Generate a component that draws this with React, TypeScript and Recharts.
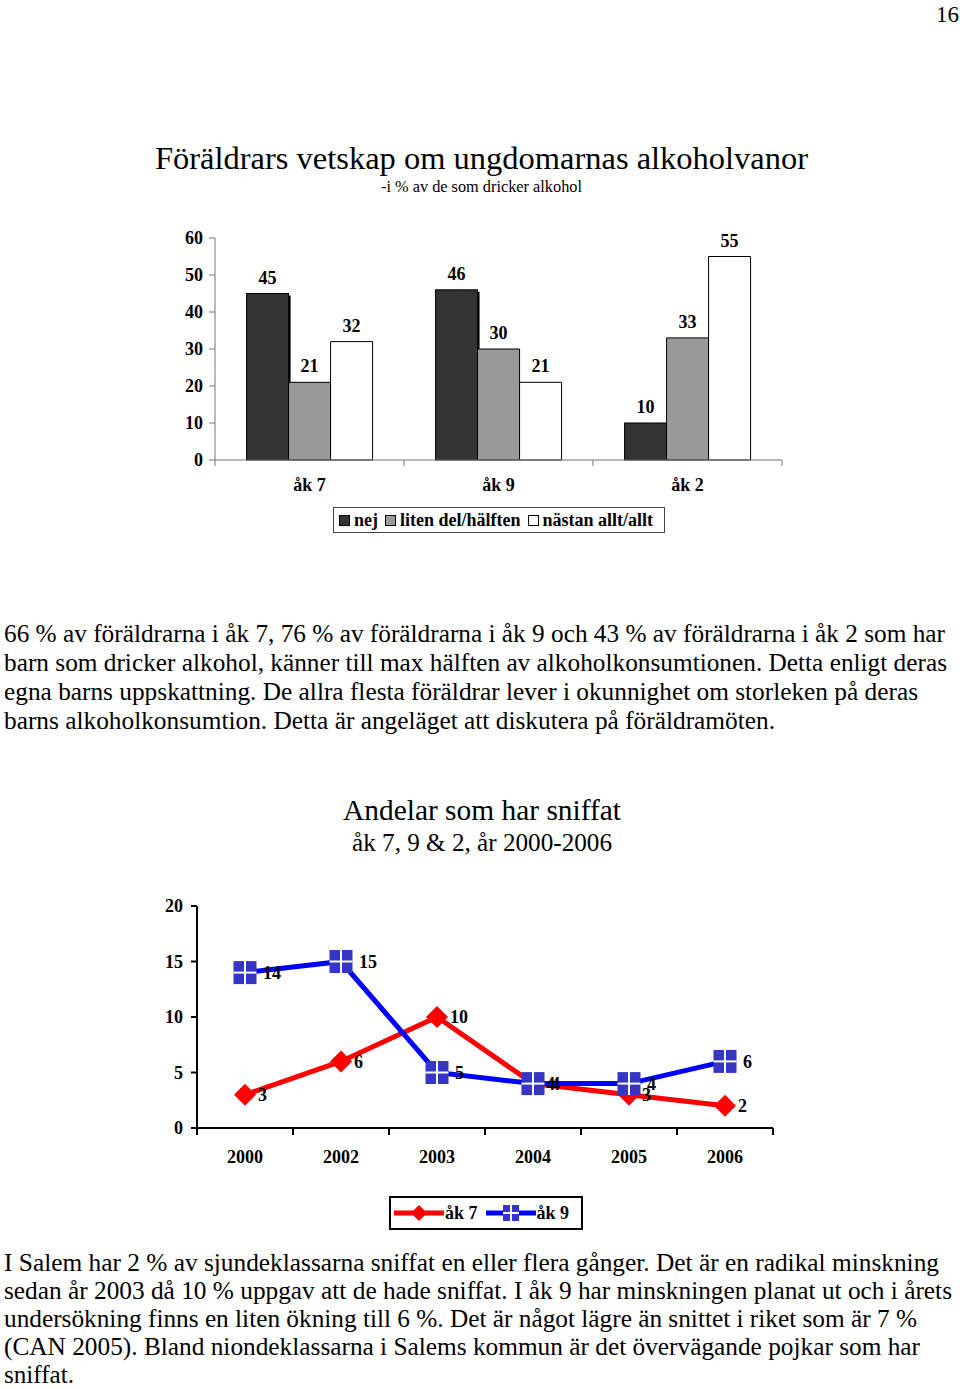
import React from 'react'
import { BarChart, Bar, XAxis, YAxis, LabelList, Legend, LineChart, Line } from 'recharts'

const SERIF = '"Liberation Serif", "Times New Roman", serif'

// stapeldiagram: föräldrars vetskap
const grades = ['åk 7', 'åk 9', 'åk 2']
const nej = [45, 46, 10]
const litenDel = [21, 30, 33]
const nastanAllt = [32, 21, 55]
const barTicks = [0, 10, 20, 30, 40, 50, 60]
const barKeys = ['nej', 'liten', 'nastan']

// linjediagram: andelar som har sniffat
const years = ['2000', '2002', '2003', '2004', '2005', '2006']
const ak7 = [3, 6, 10, 4, 3, 2]
const ak9 = [14, 15, 5, 4, 4, 6]
const lineTicks = [0, 5, 10, 15, 20]

const para1 = [
  '66 % av föräldrarna i åk 7, 76 % av föräldrarna i åk 9 och 43 % av föräldrarna i åk 2 som har',
  'barn som dricker alkohol, känner till max hälften av alkoholkonsumtionen. Detta enligt deras',
  'egna barns uppskattning. De allra flesta föräldrar lever i okunnighet om storleken på deras',
  'barns alkoholkonsumtion. Detta är angeläget att diskutera på föräldramöten.',
]
const para1Widths = [941, 943, 914, 771]

const para2 = [
  'I Salem har 2 % av sjundeklassarna sniffat en eller flera gånger. Det är en radikal minskning',
  'sedan år 2003 då 10 % uppgav att de hade sniffat. I åk 9 har minskningen planat ut och i årets',
  'undersökning finns en liten ökning till 6 %. Det är något lägre än snittet i riket som är 7 %',
  '(CAN 2005). Bland niondeklassarna i Salems kommun är det övervägande pojkar som har',
  'sniffat.',
]
const para2Widths = [935, 948, 913, 916, 70]

const barData = grades.map((g, i) => ({ grade: g, nej: nej[i], liten: litenDel[i], nastan: nastanAllt[i] }))
const lineData = years.map((y, i) => ({ year: y, ak7: ak7[i], ak9: ak9[i] }))

const BAR_HALF = 189 / 2
const LINE_HALF = 48
const AXIS_GRAY = '#777'
const MARKER_BLUE = '#3636c6'

const boldText = { fontFamily: SERIF, fontWeight: 'bold' as const, fontSize: 18, fill: '#000' }

const BarTick = (props: any) => {
  const { x, y, payload } = props
  const last = payload.value === grades[grades.length - 1]
  return (
    <g>
      <line x1={x - BAR_HALF} x2={x - BAR_HALF} y1={y} y2={y + 6} stroke={AXIS_GRAY} />
      {last && <line x1={x + BAR_HALF} x2={x + BAR_HALF} y1={y} y2={y + 6} stroke={AXIS_GRAY} />}
      <text x={x} y={y + 31} textAnchor="middle" {...boldText}>{payload.value}</text>
    </g>
  )
}

const YearTick = (props: any) => {
  const { x, y, payload } = props
  const last = payload.value === years[years.length - 1]
  return (
    <g>
      <line x1={x - LINE_HALF} x2={x - LINE_HALF} y1={y} y2={y + 7} stroke="#000" strokeWidth={2} />
      {last && <line x1={x + LINE_HALF} x2={x + LINE_HALF} y1={y} y2={y + 7} stroke="#000" strokeWidth={2} />}
      <text x={x} y={y + 35} textAnchor="middle" {...boldText}>{payload.value}</text>
    </g>
  )
}

const ShadowBar = (props: any) => {
  const { x, y, width, height, fill } = props
  return (
    <g>
      <rect x={x + width} y={y + 2} width={2} height={Math.max(height - 2, 0)} fill="#000" />
      <rect x={x} y={y} width={width} height={height} fill={fill} stroke="#000" strokeWidth={1} />
    </g>
  )
}

const diamond = (cx: number, cy: number, r: number) =>
  `${cx},${cy - r} ${cx + r},${cy} ${cx},${cy + r} ${cx - r},${cy}`

const CrossSquare = ({ cx, cy, s }: { cx: number; cy: number; s: number }) => (
  <g>
    <rect x={cx - s / 2} y={cy - s / 2} width={s} height={s} fill={MARKER_BLUE} />
    <line x1={cx} x2={cx} y1={cy - s / 2} y2={cy + s / 2} stroke="#fff" strokeWidth={2} />
    <line x1={cx - s / 2} x2={cx + s / 2} y1={cy} y2={cy} stroke="#fff" strokeWidth={2} />
  </g>
)

const BarLegend = (props: any) => {
  const items = [...(props.payload || [])].sort(
    (a: any, b: any) => barKeys.indexOf(a.dataKey) - barKeys.indexOf(b.dataKey)
  )
  return (
    <div
      style={{
        boxSizing: 'border-box',
        width: 332,
        height: 26,
        border: '1px solid #444',
        display: 'flex',
        alignItems: 'center',
        paddingLeft: 5,
        fontFamily: SERIF,
        fontWeight: 'bold',
        fontSize: 18,
        color: '#000',
        background: '#fff',
      }}
    >
      {items.map((p: any, i: number) => (
        <span key={i} style={{ display: 'flex', alignItems: 'center', marginRight: 7 }}>
          <span
            style={{
              display: 'inline-block',
              boxSizing: 'border-box',
              width: 11,
              height: 11,
              background: p.color,
              border: '1px solid #000',
              marginRight: 4,
            }}
          />
          {p.value}
        </span>
      ))}
    </div>
  )
}

const LineLegend = (props: any) => (
  <div
    style={{
      boxSizing: 'border-box',
      width: 194,
      height: 34,
      border: '2px solid #000',
      display: 'flex',
      alignItems: 'center',
      paddingLeft: 3,
      fontFamily: SERIF,
      fontWeight: 'bold',
      fontSize: 18,
      color: '#000',
      background: '#fff',
    }}
  >
    {(props.payload || []).map((p: any, i: number) => (
      <span key={i} style={{ display: 'flex', alignItems: 'center', marginRight: 8 }}>
        <svg width={50} height={20} style={{ marginRight: 1 }}>
          <line x1={0} x2={50} y1={10} y2={10} stroke={p.color} strokeWidth={5} />
          {p.dataKey === 'ak7' ? (
            <polygon points={diamond(25, 10, 8)} fill={p.color} />
          ) : (
            <CrossSquare cx={25} cy={10} s={16} />
          )}
        </svg>
        {p.value}
      </span>
    ))}
  </div>
)

const TextLine = ({ x, y, size, w, anchor = 'start', children }: any) => (
  <text
    x={x}
    y={y}
    fontSize={size}
    fontFamily={SERIF}
    fill="#000"
    textAnchor={anchor}
    textLength={w}
    lengthAdjust="spacingAndGlyphs"
  >
    {children}
  </text>
)

export default function App() {
  return (
    <div
      style={{
        position: 'absolute',
        left: 0,
        top: 0,
        width: 960,
        height: 1389,
        background: '#fff',
        overflow: 'hidden',
        fontFamily: SERIF,
      }}
    >
      <svg width={960} height={1389} style={{ position: 'absolute', left: 0, top: 0 }}>
        <TextLine x={959} y={22} size={23} w={23} anchor="end">16</TextLine>
        <TextLine x={481.5} y={169} size={32} w={653} anchor="middle">
          Föräldrars vetskap om ungdomarnas alkoholvanor
        </TextLine>
        <TextLine x={481.5} y={192} size={16} w={201} anchor="middle">
          -i % av de som dricker alkohol
        </TextLine>
        {para1.map((t, i) => (
          <TextLine key={'a' + i} x={4} y={642 + i * 29} size={25} w={para1Widths[i]}>{t}</TextLine>
        ))}
        <TextLine x={482} y={820} size={29} w={278} anchor="middle">Andelar som har sniffat</TextLine>
        <TextLine x={482} y={851} size={25} w={260} anchor="middle">åk 7, 9 &amp; 2, år 2000-2006</TextLine>
        {para2.map((t, i) => (
          <TextLine key={'b' + i} x={4} y={1271 + i * 28} size={25} w={para2Widths[i]}>{t}</TextLine>
        ))}
      </svg>

      <div style={{ position: 'absolute', left: 0, top: 200 }}>
        <BarChart
          width={960}
          height={340}
          data={barData}
          margin={{ top: 38, right: 178, bottom: 50, left: 165 }}
          barCategoryGap="16.7%"
          barGap={0}
        >
          <XAxis
            dataKey="grade"
            height={30}
            interval={0}
            tickSize={0}
            tickMargin={0}
            tick={<BarTick />}
            axisLine={{ stroke: AXIS_GRAY }}
          />
          <YAxis
            width={50}
            domain={[0, 60]}
            ticks={barTicks}
            interval={0}
            tickSize={6}
            tickMargin={6}
            tick={boldText}
            axisLine={{ stroke: AXIS_GRAY }}
            tickLine={{ stroke: AXIS_GRAY }}
          />
          <Legend
            layout="horizontal"
            verticalAlign="middle"
            align="center"
            wrapperStyle={{ left: 333, top: 307, width: 332 }}
            content={<BarLegend />}
          />
          <Bar dataKey="nej" name="nej" fill="#333333" shape={<ShadowBar />} isAnimationActive={false}>
            <LabelList dataKey="nej" position="top" offset={10} {...boldText} />
          </Bar>
          <Bar dataKey="liten" name="liten del/hälften" fill="#999999" stroke="#000" isAnimationActive={false}>
            <LabelList dataKey="liten" position="top" offset={10} {...boldText} />
          </Bar>
          <Bar dataKey="nastan" name="nästan allt/allt" fill="#ffffff" stroke="#000" isAnimationActive={false}>
            <LabelList dataKey="nastan" position="top" offset={10} {...boldText} />
          </Bar>
        </BarChart>
      </div>

      <div style={{ position: 'absolute', left: 0, top: 880 }}>
        <LineChart
          width={960}
          height={360}
          data={lineData}
          margin={{ top: 26, right: 187, bottom: 82, left: 147 }}
        >
          <XAxis
            dataKey="year"
            height={30}
            interval={0}
            padding={{ left: LINE_HALF, right: LINE_HALF }}
            tickSize={0}
            tickMargin={0}
            tick={<YearTick />}
            axisLine={{ stroke: '#000', strokeWidth: 2 }}
          />
          <YAxis
            width={50}
            domain={[0, 20]}
            ticks={lineTicks}
            interval={0}
            tickSize={6}
            tickMargin={8}
            tick={boldText}
            axisLine={{ stroke: '#000', strokeWidth: 2 }}
            tickLine={{ stroke: '#000', strokeWidth: 2 }}
          />
          <Legend
            layout="horizontal"
            verticalAlign="middle"
            align="center"
            wrapperStyle={{ left: 389, top: 316, width: 194 }}
            content={<LineLegend />}
          />
          <Line
            type="linear"
            dataKey="ak7"
            name="åk 7"
            stroke="#ff0000"
            strokeWidth={5}
            isAnimationActive={false}
            dot={(p: any) => <polygon key={'d7' + p.index} points={diamond(p.cx, p.cy, 11)} fill="#ff0000" />}
            activeDot={false}
          >
            <LabelList dataKey="ak7" position="right" offset={13} {...boldText} />
          </Line>
          <Line
            type="linear"
            dataKey="ak9"
            name="åk 9"
            stroke="#0000ff"
            strokeWidth={5}
            isAnimationActive={false}
            dot={(p: any) => <CrossSquare key={'d9' + p.index} cx={p.cx} cy={p.cy} s={23} />}
            activeDot={false}
          >
            <LabelList dataKey="ak9" position="right" offset={18} {...boldText} />
          </Line>
        </LineChart>
      </div>
    </div>
  )
}
